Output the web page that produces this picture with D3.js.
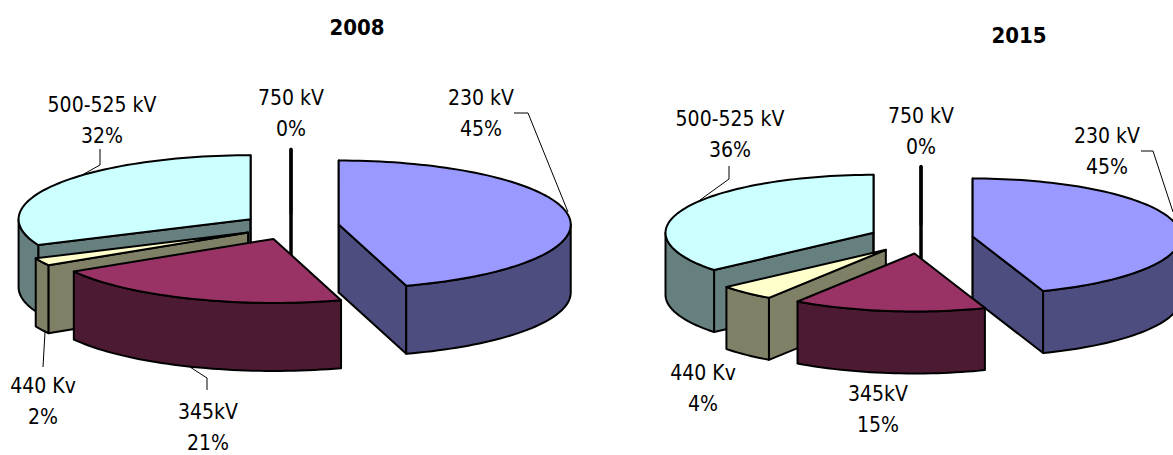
<!DOCTYPE html>
<html>
<head>
<meta charset="utf-8">
<script src="https://cdn.jsdelivr.net/npm/d3@7"></script>
<style>
  body { margin: 0; background: #fff; }
  svg { display: block; }
  text { font-family: "DejaVu Sans Condensed", "DejaVu Sans", sans-serif; fill: #000; }
</style>
</head>
<body>
<div id="chart"></div>
<script>
var categories = ["230 kV", "345kV", "440 Kv", "500-525 kV", "750 kV"]
// the labels show these rounded
var values2008 = [45.3, 21.2, 1.9, 31.6, 0]
var values2015 = [44.5, 15, 4.4, 36.1, 0]

var topColours = ["#9999ff", "#993366", "#ffffcc", "#ccffff", "#000000"]
var sideColours = ["#4d4d80", "#4d1a33", "#808066", "#668080", "#000000"]

// order the slices get painted in, back to front
var paintOrder = [4, 0, 3, 2, 1]

var svg = d3.select("#chart").append("svg")
    .attr("width", 1173)
    .attr("height", 455)

var pie = d3.pie().sort(null).startAngle(0).endAngle(2 * Math.PI)
var line = d3.line()

function drawPie(values, o) {
    var x = d3.scaleLinear().domain([-1, 1]).range([o.cx - o.rx, o.cx + o.rx])
    var y = d3.scaleLinear().domain([-1, 1]).range([o.cy - o.ry, o.cy + o.ry])
    var slices = pie(values)
    var g = svg.append("g")

    paintOrder.forEach(function(i) {
        var s = slices[i]
        var mid = (s.startAngle + s.endAngle) / 2
        // exploded slices move out along their middle angle
        var ox = Math.sin(mid) * o.explode
        var oy = -Math.cos(mid) * o.explode
        function pt(a, r, dz) {
            return [x(ox + r * Math.sin(a)), y(oy - r * Math.cos(a)) + dz]
        }
        function arcPts(a0, a1, dz) {
            var n = Math.max(2, Math.ceil((a1 - a0) / 0.03))
            return d3.range(n + 1).map(function(k) {
                return pt(a0 + (a1 - a0) * k / n, 1, dz)
            })
        }
        function face(a) {
            slice.append("path")
                .attr("d", line([pt(a, 0, 0), pt(a, 1, 0), pt(a, 1, o.depth), pt(a, 0, o.depth)]) + "Z")
                .attr("fill", sideColours[i])
        }
        var a0 = s.startAngle, a1 = s.endAngle
        var slice = g.append("g")
            .attr("stroke", "#000")
            .attr("stroke-width", values[i] === 0 ? 3 : 2)
            .attr("stroke-linejoin", "round")

        // cut faces, only when they turn towards the viewer
        if (Math.sin(a0) < 1e-9) face(a0)
        if (Math.sin(a1) > -1e-9) face(a1)

        // rim, only the part that faces the viewer
        var w0 = Math.max(a0, Math.PI / 2), w1 = Math.min(a1, 3 * Math.PI / 2)
        if (w1 > w0) {
            var rim = arcPts(w0, w1, 0).concat(arcPts(w0, w1, o.depth).reverse())
            slice.append("path").attr("d", line(rim) + "Z").attr("fill", sideColours[i])
        }

        // top
        var top = [pt(a0, 0, 0)].concat(arcPts(a0, a1, 0))
        slice.append("path").attr("d", line(top) + "Z").attr("fill", topColours[i])
    })

    // leader lines
    o.leaders.forEach(function(l) {
        g.append("path").attr("d", line(l)).attr("fill", "none").attr("stroke", "#000").attr("stroke-width", 1)
    })

    // labels
    categories.forEach(function(c, i) {
        var p = o.labels[i]
        g.append("text").attr("x", p[0]).attr("y", p[1]).attr("text-anchor", "middle")
            .attr("font-size", 21).text(c)
        g.append("text").attr("x", p[0]).attr("y", p[1] + 30.5).attr("text-anchor", "middle")
            .attr("font-size", 21).text(Math.round(values[i]) + "%")
    })

    g.append("text").attr("x", o.title[0]).attr("y", o.title[1]).attr("text-anchor", "middle")
        .attr("font-size", 22).attr("font-weight", "bold").text(o.name)
}

drawPie(values2008, {
    name: "2008", title: [357, 35],
    cx: 291, cy: 226.5, rx: 232, ry: 64, depth: 68, explode: 0.208,
    labels: [[481, 105], [208, 419], [43, 393], [102, 112], [291, 105]],
    leaders: [
        [[514, 113], [528, 113], [568, 212]],
        [[100, 149], [100, 165], [82, 175]],
        [[43, 367], [45, 332]],
        [[207, 390], [207, 378], [190, 367]]
    ]
})

drawPie(values2015, {
    name: "2015", title: [1019, 43],
    cx: 921, cy: 239, rx: 208, ry: 58, depth: 62, explode: 0.252,
    labels: [[1107, 143], [878, 401], [703, 380], [730, 126], [921, 123]],
    leaders: [
        [[1141, 151], [1153, 151], [1173, 212]],
        [[729, 166], [729, 179], [700, 200]]
    ]
})
</script>
</body>
</html>
